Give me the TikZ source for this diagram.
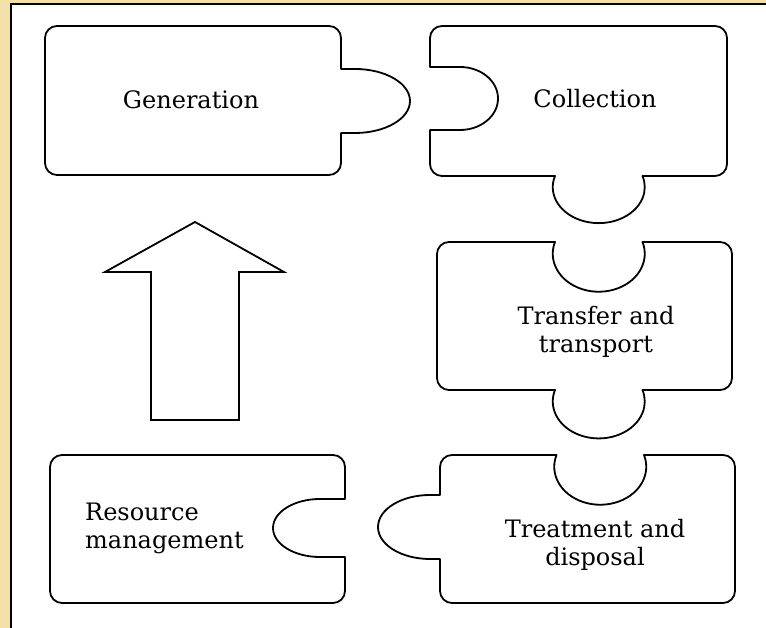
\documentclass[tikz,border=0pt]{standalone}
\usepackage{fontspec}
\setmainfont{DejaVu Serif}
\definecolor{parch}{HTML}{F4E1A9}
\tikzstyle{piece}=[draw,line width=1.8pt,line join=round]
\tikzstyle{label}=[inner sep=0pt,align=center,font=\fontsize{24}{28}\selectfont]

\begin{document}
\begin{tikzpicture}[x=1pt,y=1pt]
  \useasboundingbox (0,0) rectangle (766,628);
  %背景和边框
  \fill[parch] (0,0) rectangle (766,628);
  \fill[white] (11,0) rectangle (766,624);
  \draw[line width=2.2pt] (11,0) -- (11,624) -- (766,624);
  %Generation
  \draw[piece] (57,453) -- (329,453) arc[start angle=-90,end angle=0,radius=12]
    -- (341,495) -- (355,495) arc[start angle=-90,end angle=90,x radius=55,y radius=32]
    -- (341,559) -- (341,590) arc[start angle=0,end angle=90,radius=12]
    -- (57,602) arc[start angle=90,end angle=180,radius=12]
    -- (45,465) arc[start angle=180,end angle=270,radius=12] -- cycle;
  %Collection
  \draw[piece] (442,452) -- (555,452) arc[start angle=162,end angle=378,x radius=46,y radius=36]
    -- (715,452) arc[start angle=-90,end angle=0,radius=12]
    -- (727,590) arc[start angle=0,end angle=90,radius=12]
    -- (442,602) arc[start angle=90,end angle=180,radius=12]
    -- (430,561) -- (460,561) arc[start angle=90,end angle=-90,x radius=38,y radius=31.5]
    -- (430,498) -- (430,464) arc[start angle=180,end angle=270,radius=12] -- cycle;
  %Transfer and transport
  \draw[piece] (449,238) -- (555,238) arc[start angle=162,end angle=378,x radius=46,y radius=37]
    -- (720,238) arc[start angle=-90,end angle=0,radius=12]
    -- (732,374) arc[start angle=0,end angle=90,radius=12]
    -- (642.5,386) arc[start angle=18,end angle=-198,x radius=46,y radius=38]
    -- (449,386) arc[start angle=90,end angle=180,radius=12]
    -- (437,250) arc[start angle=180,end angle=270,radius=12] -- cycle;
  %Treatment and disposal
  \draw[piece] (452,25) -- (723,25) arc[start angle=-90,end angle=0,radius=12]
    -- (735,161) arc[start angle=0,end angle=90,radius=12]
    -- (644,173) arc[start angle=18,end angle=-198,x radius=46,y radius=38]
    -- (452,173) arc[start angle=90,end angle=180,radius=12]
    -- (440,133) -- (430,133) arc[start angle=90,end angle=270,x radius=52,y radius=32]
    -- (440,69) -- (440,37) arc[start angle=180,end angle=270,radius=12] -- cycle;
  %Resource management
  \draw[piece] (62,25) -- (333,25) arc[start angle=-90,end angle=0,radius=12]
    -- (345,71) -- (320,71) arc[start angle=-90,end angle=-270,x radius=47,y radius=29]
    -- (345,129) -- (345,161) arc[start angle=0,end angle=90,radius=12]
    -- (62,173) arc[start angle=90,end angle=180,radius=12]
    -- (50,37) arc[start angle=180,end angle=270,radius=12] -- cycle;
  %箭头
  \draw[piece,line join=miter] (151,208) -- (239,208) -- (239,356) -- (284,356)
    -- (195,406) -- (105,356) -- (151,356) -- cycle;
  %文字
  \node[label] (gen) at (191,528) {Generation};
  \node[label] (coll) at (595,529) {Collection};
  \node[label] (trans) at (596,296) {Transfer and\\transport};
  \node[label] (treat) at (595,83) {Treatment and\\disposal};
  \node[label,align=left,anchor=west] (res) at (85,100) {Resource\\management};
\end{tikzpicture}
\end{document}
